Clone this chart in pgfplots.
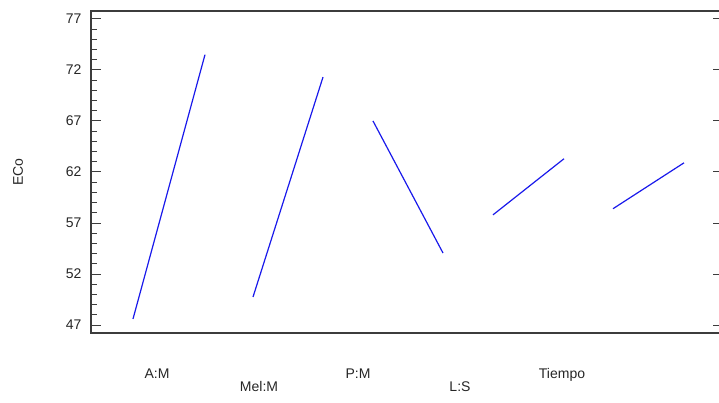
\documentclass[border=0pt]{standalone}
\usepackage{fontspec}
\setmainfont{Liberation Sans}
\usepackage{pgfplots}
\pgfplotsset{compat=1.18}
\definecolor{lineblue}{RGB}{25,25,235}
\definecolor{framegray}{RGB}{60,60,60}
\begin{document}
\begin{tikzpicture}
\useasboundingbox (-91pt,-70pt) rectangle (628pt,333pt);
\begin{axis}[
  at={(0,0)}, anchor=south west,
  scale only axis, width=630pt, height=322pt,
  xmin=91, xmax=721, ymin=46.22, ymax=77.78,
  axis line style={draw=framegray, line width=1.6pt},
  ytick={47,52,...,77}, minor y tick num=4,
  ytick pos=left, tick align=inside,
  major tick length=10pt, minor tick length=6pt,
  every tick/.style={framegray, line width=1pt},
  every minor tick/.style={framegray, line width=0.8pt},
  /pgf/number format/assume math mode=true,
  tick label style={font=\fontsize{14}{16}\selectfont, text=black!85},
  yticklabel style={xshift=-6pt},
  xtick={157,358,562}, xticklabels={A:M,P:M,Tiempo},
  extra x ticks={259,460}, extra x tick labels={Mel:M,L:S},
  xtick style={draw=none},
  extra x tick style={xtick style={draw=none}, tick label style={yshift=-13pt}},
  xticklabel style={yshift=-32pt},
  ylabel={ECo},
  ylabel style={at={([xshift=-73pt]axis description cs:0,0.5)}, anchor=center, font=\fontsize{14}{16}\selectfont, text=black!85},
]
\addplot[lineblue, line width=1.2pt] coordinates {(133,47.6) (205,73.5)};
\addplot[lineblue, line width=1.2pt] coordinates {(253,49.75) (323,71.3)};
\addplot[lineblue, line width=1.2pt] coordinates {(373,67.0) (443,54.06)};
\addplot[lineblue, line width=1.2pt] coordinates {(493,57.8) (564,63.3)};
\addplot[lineblue, line width=1.2pt] coordinates {(613,58.4) (684,62.9)};
\end{axis}
\begin{axis}[
  at={(0,0)}, anchor=south west,
  scale only axis, width=628pt, height=322pt,
  xmin=91, xmax=719, ymin=46.22, ymax=77.78,
  axis line style={draw=none},
  ytick={47,52,...,77}, ytick pos=right, tick align=inside,
  yticklabels={}, xtick=\empty,
  major tick length=6pt,
  every tick/.style={framegray, line width=1pt},
]
\end{axis}
\end{tikzpicture}
\end{document}
